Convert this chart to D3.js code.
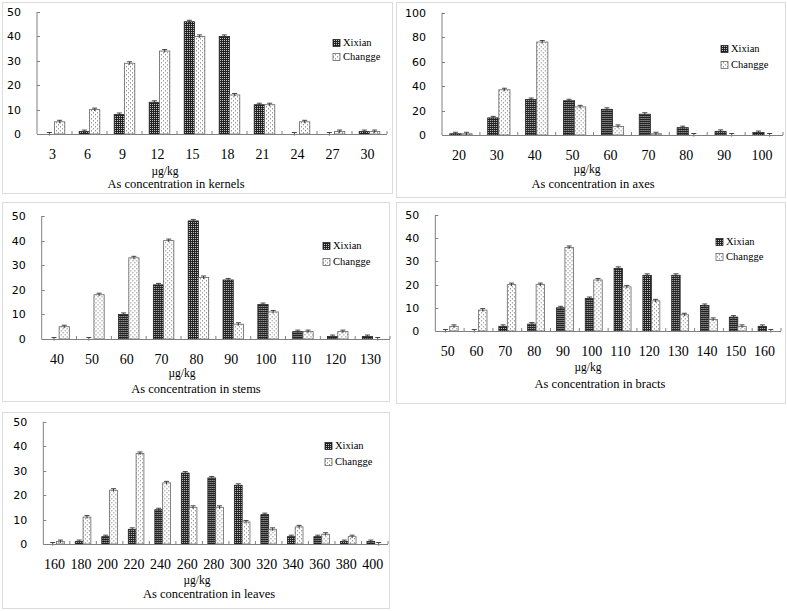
<!DOCTYPE html>
<html><head><meta charset="utf-8">
<script src="https://cdn.jsdelivr.net/npm/d3@7"></script>
<style>html,body{margin:0;padding:0;background:#fff;}svg{display:block;}</style>
</head><body>
<svg id="chart" width="787" height="611"></svg>
<script>
// ---------- data ----------
const seriesNames = ["Xixian", "Changge"];

const kernelsCats = ["3","6","9","12","15","18","21","24","27","30"];
const kernelsXixian = [0, 1, 8, 13, 46, 40, 12, 0, 0, 1];
const kernelsChangge = [5, 10, 29, 34, 40, 16, 12, 5, 1, 1];
const kernelsYTicks = [0, 10, 20, 30, 40, 50];

const axesCats = ["20","30","40","50","60","70","80","90","100"];
const axesXixian = [1, 14, 29, 28, 21, 17, 6, 3, 2];
const axesChangge = [1, 37, 76, 23, 7, 1, 0, 0, 0];
const axesYTicks = [0, 20, 40, 60, 80, 100];

const stemsCats = ["40","50","60","70","80","90","100","110","120","130"];
const stemsXixian = [0, 0, 10, 22, 48, 24, 14, 3, 1, 1];
const stemsChangge = [5, 18, 33, 40, 25, 6, 11, 3, 3, 0];
const stemsYTicks = [0, 10, 20, 30, 40, 50];

const bractsCats = ["50","60","70","80","90","100","110","120","130","140","150","160"];
const bractsXixian = [0, 0, 2, 3, 10, 14, 27, 24, 24, 11, 6, 2];
const bractsChangge = [2, 9, 20, 20, 36, 22, 19, 13, 7, 5, 2, 0];
const bractsYTicks = [0, 10, 20, 30, 40, 50];

const leavesCats = ["160","180","200","220","240","260","280","300","320","340","360","380","400"];
const leavesXixian = [0, 1, 3, 6, 14, 29, 27, 24, 12, 3, 3, 1, 1];
const leavesChangge = [1, 11, 22, 37, 25, 15, 15, 9, 6, 7, 4, 3, 0];
const leavesYTicks = [0, 10, 20, 30, 40, 50];

const unitLabel = "\u00b5g/kg";
const titles = ["As concentration in kernels","As concentration in axes","As concentration in stems","As concentration in bracts","As concentration in leaves"];

// ---------- layout ----------
const panels = [
  {cats:kernelsCats, a:kernelsXixian, b:kernelsChangge, ticks:kernelsYTicks, title:titles[0],
   box:[2,2,390,191], x0:37, x1:387, y0:134, yTop:12, unitX:165, unitY:171, titleX:176, titleY:184, legX:333, legY:[43,57]},
  {cats:axesCats, a:axesXixian, b:axesChangge, ticks:axesYTicks, title:titles[1],
   box:[396,2,389,195], x0:442, x1:783, y0:135, yTop:12.7, unitX:587, unitY:169, titleX:593, titleY:184, legX:721, legY:[49,65]},
  {cats:stemsCats, a:stemsXixian, b:stemsChangge, ticks:stemsYTicks, title:titles[2],
   box:[2,202,387,199], x0:41.7, x1:390, y0:339, yTop:216, unitX:182, unitY:373, titleX:196, titleY:389, legX:323, legY:[246,262]},
  {cats:bractsCats, a:bractsXixian, b:bractsChangge, ticks:bractsYTicks, title:titles[3],
   box:[396,202,389,201], x0:435.3, x1:781, y0:331, yTop:215, unitX:588, unitY:367, titleX:600, titleY:384, legX:716, legY:[242,257]},
  {cats:leavesCats, a:leavesXixian, b:leavesChangge, ticks:leavesYTicks, title:titles[4],
   box:[2,412,387,196], x0:43.3, x1:388, y0:544, yTop:421.7, unitX:197, unitY:580, titleX:209, titleY:594, legX:325, legY:[446,462]}
];

const svg = d3.select("#chart");
const defs = svg.append("defs");
const pX = defs.append("pattern").attr("id","patX").attr("patternUnits","userSpaceOnUse").attr("width",2).attr("height",2);
pX.append("rect").attr("width",2).attr("height",2).attr("fill","#222");
pX.append("rect").attr("x",0).attr("y",0).attr("width",1).attr("height",1).attr("fill","#c4c4c4");
const pC = defs.append("pattern").attr("id","patC").attr("patternUnits","userSpaceOnUse").attr("width",4).attr("height",4);
pC.append("rect").attr("width",4).attr("height",4).attr("fill","#fff");
pC.append("rect").attr("x",1).attr("y",0).attr("width",1).attr("height",1.5).attr("fill","#999");
pC.append("rect").attr("x",3).attr("y",2).attr("width",1).attr("height",1.5).attr("fill","#999");

const fills = ["url(#patX)", "url(#patC)"];
const strokes = ["#222", "#666"];
const axisColor = "#808080";

panels.forEach(p => {
  const g = svg.append("g");
  g.append("rect").attr("x",p.box[0]+0.5).attr("y",p.box[1]+0.5).attr("width",p.box[2]).attr("height",p.box[3])
    .attr("fill","none").attr("stroke","#dcdcdc").attr("stroke-width",1);

  const x = d3.scaleBand().domain(p.cats).range([p.x0, p.x1]).paddingInner(0).paddingOuter(0);
  const xs = d3.scaleBand().domain(seriesNames).range([0, x.bandwidth()]).paddingInner(0).paddingOuter(0.7);
  const ymax = p.ticks[p.ticks.length-1];
  const y = d3.scaleLinear().domain([0, ymax]).range([p.y0, p.yTop]);

  // y axis
  const yAxis = d3.axisLeft(y).tickValues(p.ticks).tickSize(0).tickPadding(16);
  const ya = g.append("g").attr("transform",`translate(${p.x0},0)`).call(yAxis);
  ya.select(".domain").remove();
  ya.selectAll("text").attr("font-family","DejaVu Sans").attr("font-size","11px").attr("fill","#000");
  g.append("line").attr("x1",p.x0).attr("x2",p.x0).attr("y1",y(0)).attr("y2",y(ymax)).attr("stroke",axisColor);
  g.selectAll(null).data(p.ticks).join("line")
    .attr("x1",p.x0).attr("x2",p.x0+3).attr("y1",d=>Math.round(y(d))+0.5).attr("y2",d=>Math.round(y(d))+0.5).attr("stroke",axisColor);

  // bars
  const rows = p.cats.map((c,i) => ({cat:c, vals:[p.a[i], p.b[i]]}));
  const cg = g.selectAll(null).data(rows).join("g").attr("transform",d=>`translate(${x(d.cat)},0)`);
  cg.selectAll("rect").data(d=>d.vals.map((v,k)=>({k, v}))).join("rect")
    .attr("x",d=>xs(seriesNames[d.k])).attr("width",xs.bandwidth())
    .attr("y",d=>y(d.v)).attr("height",d=>y(0)-y(d.v))
    .attr("fill",d=>fills[d.k]).attr("stroke",d=>d.v>0?strokes[d.k]:"none").attr("stroke-width",0.8);
  cg.selectAll("path.err").data(d=>d.vals.map((v,k)=>({k, v}))).join("path").attr("class","err")
    .attr("d",d=>{const cx=xs(seriesNames[d.k])+xs.bandwidth()/2; const t=y(d.v)-1.5; return `M${cx-2.5},${t}H${cx+2.5}M${cx},${t}V${t+3}`;})
    .attr("stroke","#333").attr("stroke-width",0.9).attr("fill","none");

  // x axis
  g.append("line").attr("x1",p.x0).attr("x2",p.x1).attr("y1",p.y0+0.5).attr("y2",p.y0+0.5).attr("stroke",axisColor);
  const bounds = p.cats.map(c=>x(c)).concat([p.x1]);
  g.selectAll(null).data(bounds.slice(1)).join("line")
    .attr("x1",d=>d).attr("x2",d=>d).attr("y1",p.y0).attr("y2",p.y0-3).attr("stroke",axisColor);
  const xAxis = d3.axisBottom(x).tickSize(0).tickPadding(0);
  const xa = g.append("g").attr("transform",`translate(-2,${p.y0+21})`).call(xAxis);
  xa.select(".domain").remove();
  xa.selectAll("text").attr("font-family","Liberation Serif").attr("font-size","14px").attr("fill","#000").attr("dy","0.32em");

  // unit + title
  g.append("text").attr("x",p.unitX).attr("y",p.unitY).attr("text-anchor","middle").attr("dy","0.32em")
    .attr("font-family","Liberation Serif").attr("font-size","11.5px").text(unitLabel);
  g.append("text").attr("x",p.titleX).attr("y",p.titleY).attr("text-anchor","middle").attr("dy","0.32em")
    .attr("font-family","Liberation Serif").attr("font-size","12.5px").text(p.title);

  // legend
  seriesNames.forEach((s,k) => {
    g.append("rect").attr("x",p.legX).attr("y",p.legY[k]-3.5).attr("width",7).attr("height",7)
      .attr("fill",fills[k]).attr("stroke",strokes[k]).attr("stroke-width",0.8);
    g.append("text").attr("x",p.legX+10).attr("y",p.legY[k]).attr("dy","0.32em")
      .attr("font-family","Liberation Serif").attr("font-size","10.5px").text(s);
  });
});
</script>
</body></html>
